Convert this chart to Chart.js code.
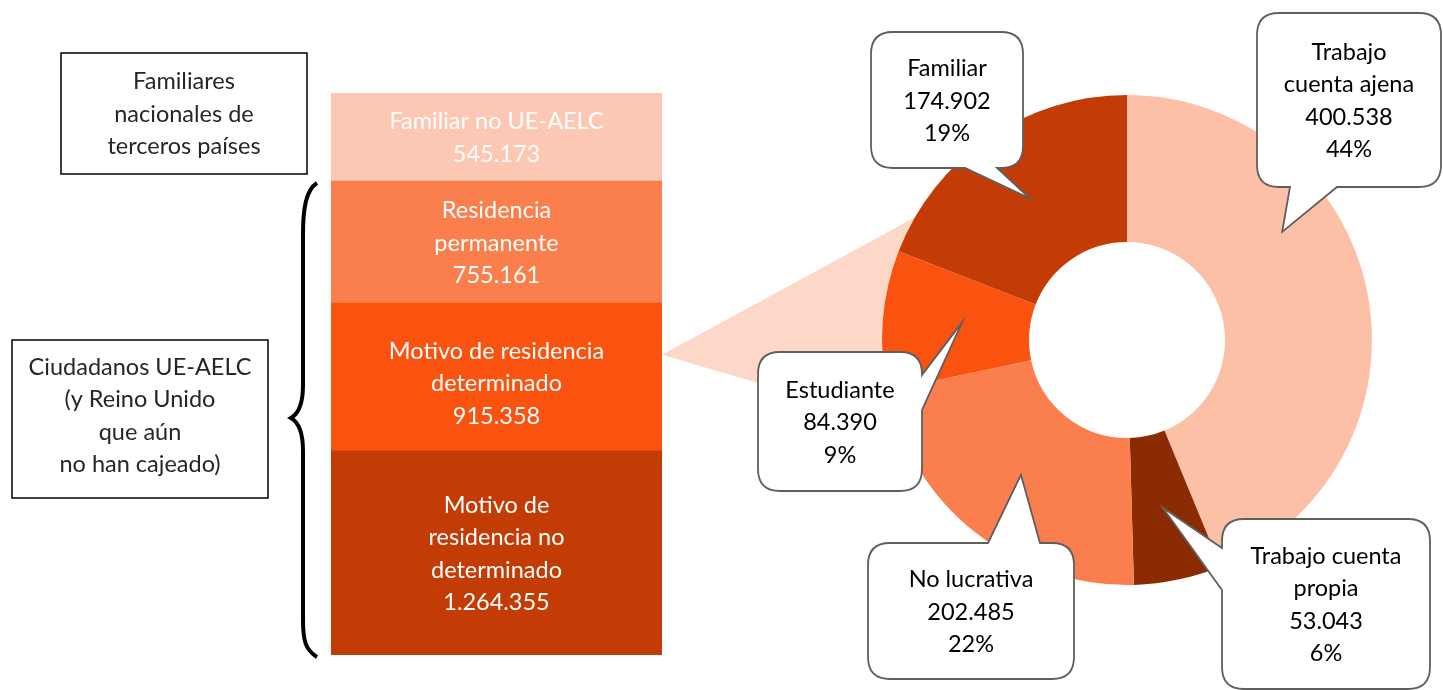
<!DOCTYPE html>
<html>
<head>
<meta charset="utf-8">
<script src="https://cdn.jsdelivr.net/npm/chart.js@4"></script>
<style>
body { margin: 0; background: #fff; }
#wrap { position: relative; width: 1443px; height: 690px; }
canvas { position: absolute; left: 0; top: 0; }
</style>
</head>
<body>
<div id="wrap">
  <canvas id="barChart" width="1443" height="690"></canvas>
  <canvas id="pieChart" width="1443" height="690"></canvas>
</div>
<script>
// stacked column, bottom to top
var barLabels = [['Motivo de', 'residencia no', 'determinado'], ['Motivo de residencia', 'determinado'], ['Residencia', 'permanente'], ['Familiar no UE-AELC']];
var barValues = [1264355, 915358, 755161, 545173];
var barColors = ['#c43c05', '#fa520f', '#fb7e4d', '#fdc8b3'];

// doughnut = breakdown of "motivo de residencia determinado"
var pieLabels = [['Trabajo', 'cuenta ajena'], ['Trabajo cuenta', 'propia'], ['No lucrativa'], ['Estudiante'], ['Familiar']];
var pieValues = [400538, 53043, 202485, 84390, 174902];
var pieColors = ['#fcc0a7', '#8b2b04', '#fb7e4e', '#fa520f', '#c43c05'];

var FONT = '23.5px Lato';

function fmt(n) {
    return String(n).replace(/\B(?=(\d{3})+(?!\d))/g, '.');
}

function drawLines(ctx, lines, cx, cy, lh) {
    var y0 = cy - (lines.length - 1) * lh / 2;
    for (var i = 0; i < lines.length; i++) {
        ctx.fillText(lines[i], cx, y0 + i * lh);
    }
}

var barTotal = barValues.reduce(function (a, b) { return a + b; }, 0);
var pieTotal = pieValues.reduce(function (a, b) { return a + b; }, 0);

var barDatasets = barValues.map(function (v, i) {
    return {
        label: barLabels[i].join(' '),
        data: [v],
        backgroundColor: barColors[i],
        borderWidth: 0,
        barPercentage: 1,
        categoryPercentage: 1
    };
});

// labels inside the column + the two boxes and the brace on the left
var barDecor = {
    id: 'barDecor',
    afterDatasetsDraw: function (chart) {
        var ctx = chart.ctx;
        ctx.save();
        ctx.font = FONT;
        ctx.fillStyle = '#fff';
        ctx.textAlign = 'center';
        ctx.textBaseline = 'middle';
        chart.data.datasets.forEach(function (ds, i) {
            var el = chart.getDatasetMeta(i).data[0];
            var lines = barLabels[i].concat([fmt(barValues[i])]);
            var dy = i == 1 ? 7 : 1;
            drawLines(ctx, lines, el.x, (el.y + el.base) / 2 + dy, 32.5);
        });

        // text boxes
        ctx.fillStyle = '#262626';
        ctx.strokeStyle = '#000';
        ctx.lineWidth = 1.5;
        ctx.strokeRect(61, 53, 246, 121);
        drawLines(ctx, ['Familiares', 'nacionales de', 'terceros países'], 184, 114, 32.5);
        ctx.strokeRect(12, 340, 256, 158);
        drawLines(ctx, ['Ciudadanos UE-AELC', '(y Reino Unido', 'que aún', 'no han cajeado)'], 140, 416, 32.5);

        // brace
        ctx.beginPath();
        ctx.moveTo(317, 183);
        ctx.bezierCurveTo(306, 190, 303, 208, 303, 235);
        ctx.lineTo(303, 385);
        ctx.bezierCurveTo(303, 405, 298, 414, 291, 418);
        ctx.bezierCurveTo(298, 422, 303, 431, 303, 451);
        ctx.lineTo(303, 620);
        ctx.bezierCurveTo(303, 642, 306, 650, 317, 657);
        ctx.lineWidth = 4;
        ctx.stroke();
        ctx.restore();
    }
};

var barChart = new Chart(document.getElementById('barChart'), {
    type: 'bar',
    data: { labels: [''], datasets: barDatasets },
    options: {
        responsive: false,
        animation: false,
        layout: { padding: { left: 331, right: 781, top: 93, bottom: 35 } },
        scales: {
            x: { stacked: true, display: false },
            y: { stacked: true, display: false, min: 0, max: barTotal }
        },
        plugins: { legend: { display: false }, tooltip: { enabled: false } }
    },
    plugins: [barDecor]
});

// callout boxes: box x,y,w,h, side where the pointer leaves, pointer base a-b,
// tip at fraction t of the slice angle and u of the ring width
var callouts = [
    { box: [1257, 13, 184, 174], side: 'bottom', a: 1290, b: 1337, t: 0.35, u: 0.62 },
    { box: [1222, 519, 208, 170], side: 'left', a: 548, b: 590, t: 0.5, u: 0.5 },
    { box: [868, 543, 206, 136], side: 'top', a: 988, b: 1040, t: 0.5, u: 0.5 },
    { box: [758, 352, 164, 139], side: 'right', a: 375, b: 410, t: 0.55, u: 0.46 },
    { box: [871, 32, 152, 136], side: 'bottom', a: 965, b: 997, t: 0.5, u: 0.5 }
];

function calloutPath(ctx, c, tip) {
    var x = c.box[0], y = c.box[1], w = c.box[2], h = c.box[3], r = 22;
    ctx.beginPath();
    ctx.moveTo(x + r, y);
    if (c.side == 'top') { ctx.lineTo(c.a, y); ctx.lineTo(tip.x, tip.y); ctx.lineTo(c.b, y); }
    ctx.lineTo(x + w - r, y);
    ctx.quadraticCurveTo(x + w, y, x + w, y + r);
    if (c.side == 'right') { ctx.lineTo(x + w, c.a); ctx.lineTo(tip.x, tip.y); ctx.lineTo(x + w, c.b); }
    ctx.lineTo(x + w, y + h - r);
    ctx.quadraticCurveTo(x + w, y + h, x + w - r, y + h);
    if (c.side == 'bottom') { ctx.lineTo(c.b, y + h); ctx.lineTo(tip.x, tip.y); ctx.lineTo(c.a, y + h); }
    ctx.lineTo(x + r, y + h);
    ctx.quadraticCurveTo(x, y + h, x, y + h - r);
    if (c.side == 'left') { ctx.lineTo(x, c.b); ctx.lineTo(tip.x, tip.y); ctx.lineTo(x, c.a); }
    ctx.lineTo(x, y + r);
    ctx.quadraticCurveTo(x, y, x + r, y);
    ctx.closePath();
}

var pieDecor = {
    id: 'pieDecor',
    // light wedge from the column to the doughnut
    beforeDatasetsDraw: function (chart) {
        var ctx = chart.ctx;
        var arc = chart.getDatasetMeta(0).data[0];
        var seg = barChart.getDatasetMeta(1).data[0];
        var ax = seg.x + seg.width / 2;
        var ay = seg.y + (seg.base - seg.y) * 0.35;
        var a1 = 210 * Math.PI / 180, a2 = 160 * Math.PI / 180;
        var R = arc.outerRadius;
        ctx.save();
        ctx.beginPath();
        ctx.moveTo(ax, ay);
        ctx.lineTo(arc.x + Math.cos(a1) * R, arc.y + Math.sin(a1) * R);
        ctx.arc(arc.x, arc.y, R, a1, a2, true);
        ctx.closePath();
        ctx.fillStyle = '#fdd7c7';
        ctx.fill();
        ctx.restore();
    },
    afterDatasetsDraw: function (chart) {
        var ctx = chart.ctx;
        var els = chart.getDatasetMeta(0).data;
        ctx.save();
        ctx.font = FONT;
        ctx.textAlign = 'center';
        ctx.textBaseline = 'middle';
        callouts.forEach(function (c, i) {
            var el = els[i];
            var ang = el.startAngle + c.t * (el.endAngle - el.startAngle);
            var rad = el.innerRadius + c.u * (el.outerRadius - el.innerRadius);
            var tip = { x: el.x + Math.cos(ang) * rad, y: el.y + Math.sin(ang) * rad };
            calloutPath(ctx, c, tip);
            ctx.fillStyle = '#fff';
            ctx.fill();
            ctx.strokeStyle = '#5f5f5f';
            ctx.lineWidth = 1.8;
            ctx.stroke();
            var pct = Math.round(pieValues[i] / pieTotal * 100) + '%';
            var lines = pieLabels[i].concat([fmt(pieValues[i]), pct]);
            ctx.fillStyle = '#000';
            drawLines(ctx, lines, c.box[0] + c.box[2] / 2, c.box[1] + c.box[3] / 2 + 1, 32.5);
        });
        ctx.restore();
    }
};

var pieChart = new Chart(document.getElementById('pieChart'), {
    type: 'doughnut',
    data: {
        labels: pieLabels.map(function (l) { return l.join(' '); }),
        datasets: [{
            data: pieValues,
            backgroundColor: pieColors,
            borderWidth: 0
        }]
    },
    options: {
        responsive: false,
        animation: false,
        cutout: '40%',
        layout: { padding: { left: 882, right: 71, top: 95, bottom: 105 } },
        plugins: { legend: { display: false }, tooltip: { enabled: false } }
    },
    plugins: [pieDecor]
});
</script>
</body>
</html>
